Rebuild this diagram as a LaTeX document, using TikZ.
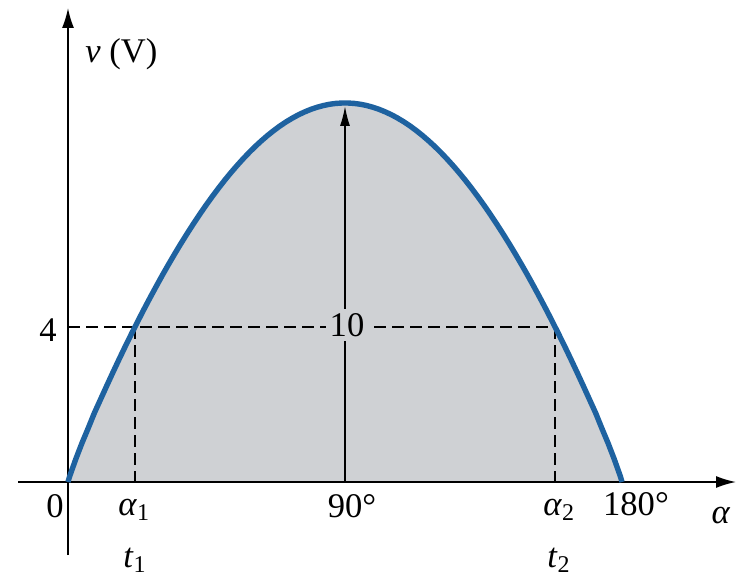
\documentclass[tikz,border=0pt]{standalone}
\usepackage{fontspec}
\setmainfont{Liberation Serif}
\usetikzlibrary{positioning, arrows.meta}

\definecolor{curveblue}{RGB}{30,98,160}
\definecolor{areagray}{RGB}{207,209,212}

\begin{document}
\begin{tikzpicture}[x=0.5pt, y=-0.5pt, font=\LARGE,
  axis/.style={line width=0.85pt, -{Latex[length=10pt, width=6pt]}},
  guide/.style={line width=0.8pt, dash pattern=on 6pt off 3pt},
  lbl/.style={inner sep=0pt, anchor=base}]
\useasboundingbox (0,0) rectangle (744,577);

\coordinate (O) at (68,482);
\coordinate (end) at (622,482);
\coordinate (xstart) at (18,482);
\coordinate (xend) at (736,482);
\coordinate (ystart) at (68,555);
\coordinate (yend) at (68,8);
\coordinate (foot) at (345,482);
\coordinate (peak) at (345,106);
\coordinate (v4) at (68,327);
\coordinate (p1) at (134.8,327);
\coordinate (p2) at (555.2,327);
\coordinate (q1) at (134.8,482);
\coordinate (q2) at (555.2,482);

\fill[areagray] (O) -- plot[domain=0.5:179.5, samples=90] ({68+3.07778*\x},{482-379*pow(abs(sin(\x)),0.9)}) -- (end) -- cycle;

\draw[axis] (xstart) -- (xend);
\draw[axis] (ystart) -- (yend);

\draw[guide] (v4) -- (p2);
\draw[guide] (p1) -- (q1);
\draw[guide] (p2) -- (q2);
\draw[line width=0.8pt, -{Latex[length=10pt, width=5pt]}] (foot) -- (peak);

\draw[curveblue, line width=2.7pt] (O) -- plot[domain=0.5:179.5, samples=90] ({68+3.07778*\x},{482-379*pow(abs(sin(\x)),0.9)}) -- (end);

\node[fill=areagray, inner sep=2pt] (ten) at (347,325) {10};

\node[lbl, anchor=base west] (vlabel) at (85,63) {\textit{v} (V)};
\node[lbl] (four) at (48,342) {4};
\node[lbl] (zero) at (55,517) {0};
\node[lbl, anchor=base west] (alpha1) at (118,515) {\textit{α}\textsubscript{1}};
\node[lbl, anchor=base west] (t1) at (123,567) {\textit{t}\textsubscript{1}};
\node[lbl] (deg90) at (352,517) {90°};
\node[lbl, anchor=base west] (alpha2) at (543,515) {\textit{α}\textsubscript{2}};
\node[lbl, anchor=base west] (t2) at (547,567) {\textit{t}\textsubscript{2}};
\node[lbl] (deg180) at (636,515) {180°};
\node[lbl] (alpha) at (721,523) {\textit{α}};

\end{tikzpicture}
\end{document}
